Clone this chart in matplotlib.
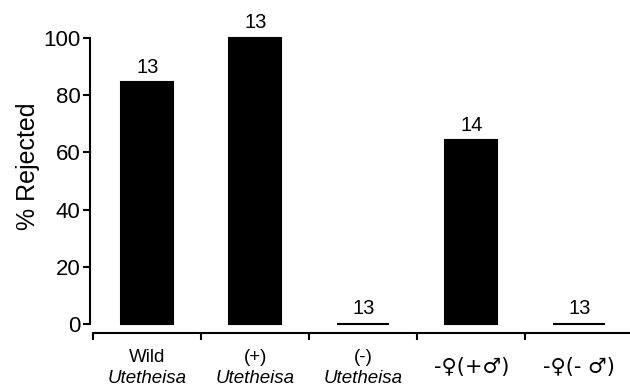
import matplotlib
matplotlib.use('Agg')
import matplotlib.pyplot as plt
from matplotlib.transforms import blended_transform_factory

# Данные
groups_top = ["Wild", "(+)", "(-)", "-\u2640(+\u2642)", "-\u2640(- \u2642)"]
groups_bottom = ["Utetheisa", "Utetheisa", "Utetheisa", "", ""]
rejected = [84.6, 100.0, 0.0, 64.3, 0.0]
n_counts = [13, 13, 13, 14, 13]

plt.rcParams['font.family'] = ['Liberation Sans', 'DejaVu Sans']

fig = plt.figure(figsize=(6.3, 3.92), dpi=100)
ax = fig.add_axes([0.143, 0.1505, 0.857, 0.8495])

x = list(range(len(rejected)))
ax.bar(x, rejected, width=0.48, color='black', edgecolor='black', linewidth=1.5)

for xi, v, n in zip(x, rejected, n_counts):
    ax.annotate(str(n), (xi, v), xytext=(0, 4), textcoords='offset points',
                ha='center', va='bottom', fontsize=14.5)

ax.set_xlim(-0.53, 4.47)
ax.set_ylim(-3.15, 113.3)

ax.spines['top'].set_visible(False)
ax.spines['right'].set_visible(False)
ax.spines['left'].set_bounds(0, 100)
ax.spines['bottom'].set_bounds(-0.5, 4.47)
ax.spines['left'].set_linewidth(1.5)
ax.spines['bottom'].set_linewidth(1.5)

ax.set_yticks([0, 20, 40, 60, 80, 100])
ax.tick_params(axis='y', direction='out', length=5, width=1.5, labelsize=16, pad=2)

# засечки между группами, подписи под столбцами
ax.set_xticks([i - 0.5 for i in x])
ax.set_xticklabels([])
ax.tick_params(axis='x', direction='out', length=5, width=1.5)

trans = blended_transform_factory(ax.transData, ax.transAxes)
for xi, top, bottom in zip(x, groups_top, groups_bottom):
    if bottom:
        ax.text(xi, -0.047, top, transform=trans, ha='center', va='top', fontsize=13.5)
        ax.text(xi, -0.112, bottom, transform=trans, ha='center', va='top',
                fontsize=13.5, style='italic')
    else:
        ax.text(xi, -0.102, top, transform=trans, ha='center', va='center',
                fontsize=15, family='DejaVu Sans')

ax.set_ylabel("% Rejected", fontsize=18, labelpad=2)

fig.savefig("out.png", dpi=100)
